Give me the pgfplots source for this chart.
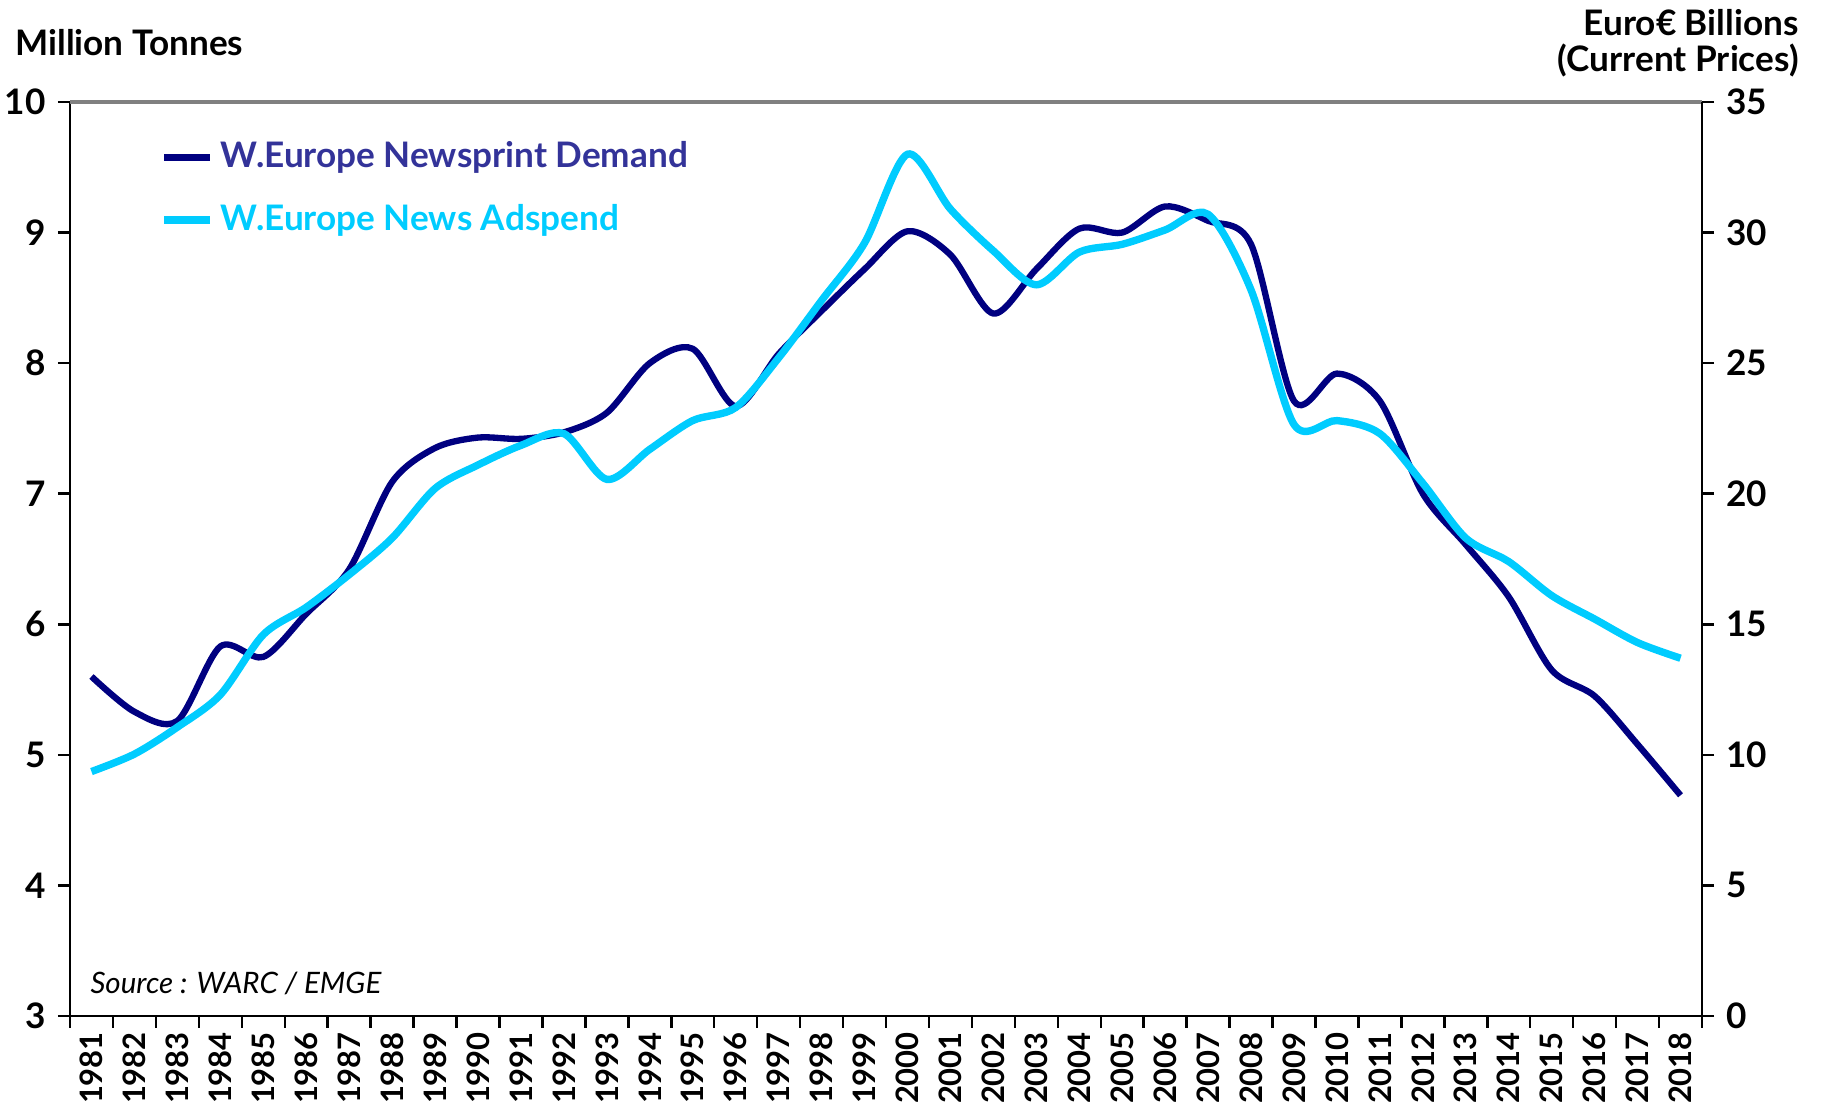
\documentclass[border=0pt]{standalone}
\usepackage{pgfplots}
\usepackage{pgfplotstable}
\pgfplotsset{compat=1.18}
\usepackage{fontspec}
\setmainfont{Lato}

\definecolor{navyline}{RGB}{0,0,128}
\definecolor{cyanline}{RGB}{0,204,255}
\definecolor{legnavy}{RGB}{51,51,153}

% idx: category position, demand: Mt (left axis), adspend: EUR bn (right axis)
\pgfplotstableread{
idx year demand adspend
0  1981 5.60 9.36
1  1982 5.33 10.03
2  1983 5.26 11.06
3  1984 5.83 12.30
4  1985 5.75 14.60
5  1986 6.08 15.65
6  1987 6.42 16.90
7  1988 7.09 18.30
8  1989 7.35 20.20
9  1990 7.43 21.10
10 1991 7.42 21.85
11 1992 7.47 22.30
12 1993 7.62 20.55
13 1994 8.00 21.70
14 1995 8.11 22.80
15 1996 7.67 23.30
16 1997 8.07 25.20
17 1998 8.40 27.40
18 1999 8.72 29.60
19 2000 9.01 33.00
20 2001 8.83 30.90
21 2002 8.38 29.30
22 2003 8.72 28.00
23 2004 9.03 29.25
24 2005 9.00 29.55
25 2006 9.20 30.10
26 2007 9.09 30.70
27 2008 8.91 27.80
28 2009 7.71 22.65
29 2010 7.92 22.80
30 2011 7.71 22.30
31 2012 7.00 20.40
32 2013 6.61 18.30
33 2014 6.21 17.40
34 2015 5.65 16.10
35 2016 5.45 15.20
36 2017 5.08 14.30
37 2018 4.69 13.70
}\data

\pgfplotsset{
  common/.style={
    scale only axis,
    width=163.2mm, height=91.4mm,
    xmin=-0.5, xmax=37.5,
    tick align=outside,
    major tick length=1.2mm,
    minor tick length=1.2mm,
    every tick/.style={black, line width=0.7pt},
    axis line style={black, line width=0.7pt},
    ticklabel style={font=\bfseries},
    /pgf/number format/assume math mode=true,
    clip=false,
  }
}

\begin{document}
\begin{tikzpicture}
\useasboundingbox (-7mm,-9mm) rectangle (175.4mm,101.6mm);

\begin{axis}[
  common,
  at={(0,0)}, anchor=south west,
  axis x line*=bottom, axis y line*=left,
  ymin=3, ymax=10, ytick={3,4,...,10},
  xtick={0,...,37},
  xticklabels from table={\data}{year},
  major x tick style={draw=none},
  minor xtick={-0.5,0.5,...,37.5},
  xticklabel style={rotate=90, anchor=east, inner sep=1pt,
    font=\bfseries\fontsize{8.8}{10}\selectfont},
  legend style={at={(0.055,0.965)}, anchor=north west, draw=none, fill=none,
    font=\bfseries, row sep=1.7mm, inner sep=0pt},
  legend cell align=left,
  legend image code/.code={\draw[#1] (0mm,0mm) -- (4.6mm,0mm);},
]
\addplot[navyline, line width=1.8pt, smooth, tension=0.5] table[x=idx, y=demand] {\data};
\addlegendentry{\textcolor{legnavy}{W.Europe Newsprint Demand}}
\addlegendimage{cyanline, line width=2.1pt}
\addlegendentry{\textcolor{cyanline}{W.Europe News Adspend}}
\draw[gray, line width=0.9pt] (rel axis cs:0,1) -- (rel axis cs:1,1);
\node[anchor=west, font=\itshape\fontsize{8.4}{10}\selectfont] at (rel axis cs:0.005,0.036) {Source : WARC / EMGE};
\end{axis}

\begin{axis}[
  common,
  at={(0,0)}, anchor=south west,
  axis y line*=right, axis x line=none,
  ymin=0, ymax=35, ytick={0,5,...,35},
]
\addplot[cyanline, line width=2.1pt, smooth, tension=0.5] table[x=idx, y=adspend] {\data};
\end{axis}

\node[anchor=west, font=\bfseries] at (-6.7mm,97.3mm) {Million Tonnes};
\node[anchor=east, align=right, font=\bfseries\fontsize{10}{10.3}\selectfont] at (174.1mm,97.3mm) {Euro€ Billions\\(Current Prices)};
\end{tikzpicture}
\end{document}
